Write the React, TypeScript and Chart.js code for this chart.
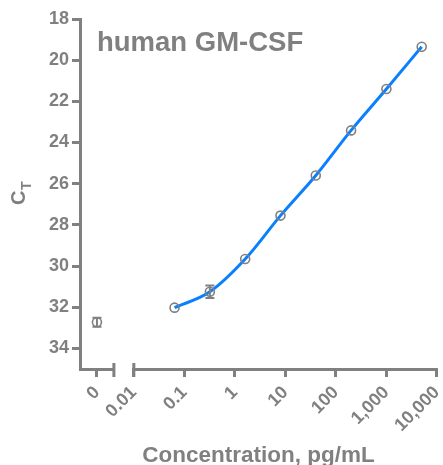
import React, { useEffect, useRef } from 'react';
import { Chart, registerables } from 'chart.js';

Chart.register(...registerables);

// ---- data ----
const concentrations = [0.064, 0.32, 1.6, 8, 40, 200, 1000, 5000];
const ctMeans = [32.02, 31.25, 29.66, 27.55, 25.6, 23.41, 21.4, 19.35];
const ctErrors = [0, 0.3, 0, 0, 0, 0, 0, 0];
const zeroLabels = ['0'];
const zeroCt = [32.73];
const zeroErr = [0.22];
const xTickValues = [0.01, 0.1, 1, 10, 100, 1000, 10000];
const yTickValues = [18, 20, 22, 24, 26, 28, 30, 32, 34];
const chartTitle = 'human GM-CSF';
const xTitle = 'Concentration, pg/mL';
const yTitleMain = 'C';
const yTitleSub = 'T';

const GRAY = '#808080';
const BLUE = '#0A80FF';
const FAMILY = 'Liberation Sans, Arial, sans-serif';

const fmt = (v: number) => (v >= 1000 ? v.toLocaleString('en-US') : String(v));

const decorPlugin = {
  id: 'decor',
  afterDatasetsDraw(chart: any) {
    const ctx = chart.ctx;
    const y = chart.scales.y;
    const drawErr = (px: number, mean: number, err: number) => {
      if (!err) return;
      const top = y.getPixelForValue(mean - err);
      const bot = y.getPixelForValue(mean + err);
      ctx.save();
      ctx.strokeStyle = GRAY;
      ctx.lineWidth = 2;
      ctx.beginPath();
      ctx.moveTo(px, top);
      ctx.lineTo(px, bot);
      ctx.moveTo(px - 4.5, top);
      ctx.lineTo(px + 4.5, top);
      ctx.moveTo(px - 4.5, bot);
      ctx.lineTo(px + 4.5, bot);
      ctx.stroke();
      ctx.restore();
    };
    const x = chart.scales.x;
    concentrations.forEach((c, i) => drawErr(x.getPixelForValue(c), ctMeans[i], ctErrors[i]));
    const xz = chart.scales.xz;
    zeroLabels.forEach((l, i) => drawErr(xz.getPixelForValue(i), zeroCt[i], zeroErr[i]));
  },
  afterDraw(chart: any) {
    const ctx = chart.ctx;
    const area = chart.chartArea;
    const xz = chart.scales.xz;
    const x = chart.scales.x;
    ctx.save();
    // break caps
    ctx.strokeStyle = GRAY;
    ctx.lineWidth = 3;
    ctx.beginPath();
    ctx.moveTo(xz.right, area.bottom - 6);
    ctx.lineTo(xz.right, area.bottom + 8);
    ctx.moveTo(x.left, area.bottom - 6);
    ctx.lineTo(x.left, area.bottom + 8);
    ctx.stroke();
    // chart title
    ctx.fillStyle = GRAY;
    ctx.font = `bold 27.5px ${FAMILY}`;
    ctx.textAlign = 'left';
    ctx.textBaseline = 'alphabetic';
    ctx.fillText(chartTitle, area.left + 17, 50.5);
    // x title
    ctx.font = `bold 22.5px ${FAMILY}`;
    ctx.textAlign = 'center';
    ctx.fillText(xTitle, (area.left + area.right) / 2, 461.5);
    // y title
    ctx.translate(25, 205);
    ctx.rotate(-Math.PI / 2);
    ctx.textAlign = 'left';
    ctx.font = `bold 20px ${FAMILY}`;
    ctx.fillText(yTitleMain, 0, 0);
    const w = ctx.measureText(yTitleMain).width;
    ctx.font = `bold 14px ${FAMILY}`;
    ctx.fillText(yTitleSub, w + 0.5, 6);
    ctx.restore();
  },
};

export default function App() {
  const ref = useRef<HTMLCanvasElement | null>(null);
  useEffect(() => {
    if (!ref.current) return;
    const tickFontX = { family: FAMILY, size: 18, weight: 'bold' as const };
    const tickFontY = { family: FAMILY, size: 18, weight: 'bold' as const };
    const pointStyle = {
      showLine: false,
      pointRadius: 4.5,
      pointBorderWidth: 1.6,
      pointBorderColor: GRAY,
      pointBackgroundColor: 'rgba(0,0,0,0)',
      borderColor: GRAY,
      backgroundColor: 'rgba(0,0,0,0)',
    };
    const fitX = (s: any) => {
      s.height = 96;
      s.paddingLeft = 0;
      s.paddingRight = 0;
    };
    const chart = new Chart(ref.current, {
      type: 'line',
      data: {
        datasets: [
          {
            ...pointStyle,
            xAxisID: 'x',
            data: concentrations.map((c, i) => ({ x: c, y: ctMeans[i] })),
          },
          {
            ...pointStyle,
            xAxisID: 'xz',
            data: zeroLabels.map((l, i) => ({ x: l, y: zeroCt[i] })),
          },
          {
            xAxisID: 'x',
            data: concentrations.map((c, i) => ({ x: c, y: ctMeans[i] })),
            borderColor: BLUE,
            borderWidth: 3,
            pointRadius: 0,
            cubicInterpolationMode: 'monotone',
            fill: false,
          },
        ],
      } as any,
      options: {
        animation: false,
        responsive: true,
        maintainAspectRatio: false,
        layout: { padding: { top: 19, right: 5, bottom: 0, left: 0 } },
        plugins: { legend: { display: false }, tooltip: { enabled: false } },
        scales: {
          y: {
            type: 'linear',
            position: 'left',
            reverse: true,
            min: 18,
            max: 35,
            afterBuildTicks: (s: any) => {
              s.ticks = yTickValues.map((v) => ({ value: v }));
            },
            afterFit: (s: any) => {
              s.width = 80;
            },
            border: { display: true, color: GRAY, width: 3 },
            grid: { drawOnChartArea: false, drawTicks: true, tickLength: 8, color: GRAY, lineWidth: 3 },
            ticks: { color: GRAY, font: tickFontY, padding: 3 },
          },
          xz: {
            type: 'category',
            position: 'bottom',
            labels: zeroLabels,
            offset: true,
            stack: 'xs',
            stackWeight: 34,
            weight: 1,
            afterFit: fitX,
            border: { display: true, color: GRAY, width: 3 },
            grid: { drawOnChartArea: false, drawTicks: true, tickLength: 8, color: GRAY, lineWidth: 3, offset: false },
            ticks: { color: GRAY, font: tickFontX, minRotation: 45, maxRotation: 45, padding: 5 },
          },
          xgap: {
            type: 'linear',
            position: 'bottom',
            display: false,
            stack: 'xs',
            stackWeight: 20,
            weight: 2,
          },
          x: {
            type: 'logarithmic',
            position: 'bottom',
            min: 0.01,
            max: 10000,
            stack: 'xs',
            stackWeight: 304,
            weight: 3,
            afterBuildTicks: (s: any) => {
              s.ticks = xTickValues.map((v) => ({ value: v }));
            },
            afterFit: fitX,
            border: { display: true, color: GRAY, width: 3 },
            grid: { drawOnChartArea: false, drawTicks: true, tickLength: 8, color: GRAY, lineWidth: 3 },
            ticks: {
              color: GRAY,
              font: tickFontX,
              minRotation: 45,
              maxRotation: 45,
              autoSkip: false,
              padding: 5,
              callback: (v: any) => fmt(Number(v)),
            },
          },
        },
      } as any,
      plugins: [decorPlugin],
    });
    return () => chart.destroy();
  }, []);
  return (
    <div style={{ position: 'fixed', left: 0, top: 0, width: 443, height: 465, background: '#fff' }}>
      <canvas ref={ref} />
    </div>
  );
}
